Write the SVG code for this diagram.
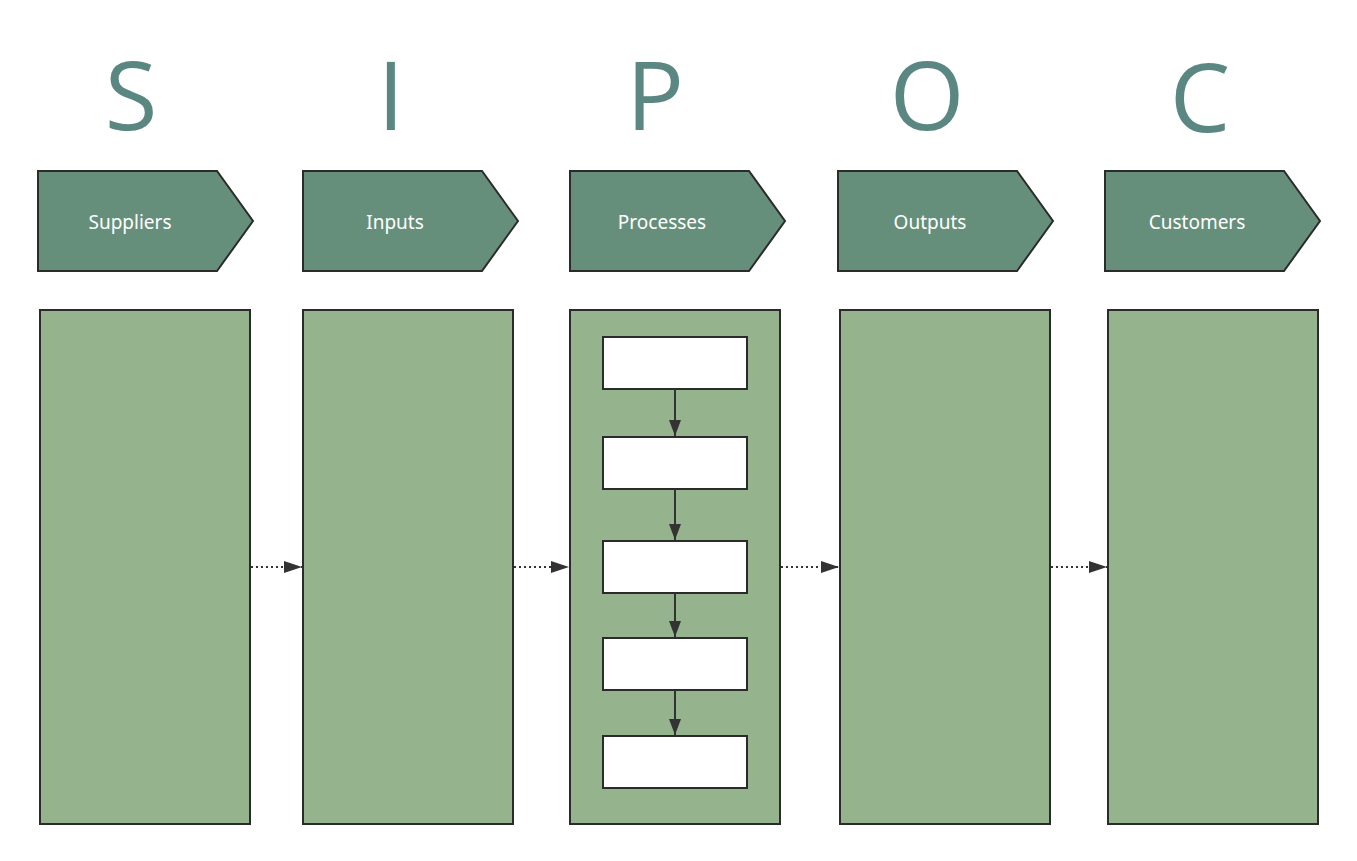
<svg xmlns="http://www.w3.org/2000/svg" width="1357" height="861" viewBox="0 0 1357 861">
<style>
.big{font-family:"Open Sans","Noto Sans",sans-serif;font-size:96px;fill:#5b8782;text-anchor:middle}
.hd{fill:#668f7b;stroke:#2b2b2b;stroke-width:2}
.hl{font-family:"Noto Sans","Open Sans",sans-serif;font-size:19px;fill:#fff;text-anchor:middle}
.col{fill:#95b48e;stroke:#2b2b2b;stroke-width:2}
.box{fill:#fff;stroke:#2b2b2b;stroke-width:2}
.c{stroke:#333;stroke-width:2;fill:none}
.d{stroke:#333;stroke-width:2;stroke-dasharray:2 3;fill:none}
</style>
<defs><marker id="a" markerWidth="16" markerHeight="12" refX="16" refY="6" orient="auto" markerUnits="userSpaceOnUse"><path d="M0,0L16,6L0,12z" fill="#333"/></marker>
<marker id="b" markerWidth="18" markerHeight="12" refX="18" refY="6" orient="auto" markerUnits="userSpaceOnUse"><path d="M0,0L18,6L0,12z" fill="#333"/></marker></defs>
<g id="letters"><text class="big" x="131" y="130">S</text><text class="big" x="391" y="130">I</text><text class="big" x="655" y="130">P</text><text class="big" x="927" y="130">O</text><text class="big" x="1200" y="132">C</text></g>
<g id="h1"><path class="hd" d="M38,171H217L253,221L217,271H38Z"/><text class="hl" x="130" y="229">Suppliers</text></g>
<g id="h2"><path class="hd" d="M303,171H482L518,221L482,271H303Z"/><text class="hl" x="395" y="229">Inputs</text></g>
<g id="h3"><path class="hd" d="M570,171H749L785,221L749,271H570Z"/><text class="hl" x="662" y="229">Processes</text></g>
<g id="h4"><path class="hd" d="M838,171H1017L1053,221L1017,271H838Z"/><text class="hl" x="930" y="229">Outputs</text></g>
<g id="h5"><path class="hd" d="M1105,171H1284L1320,221L1284,271H1105Z"/><text class="hl" x="1197" y="229">Customers</text></g>
<g id="c1"><rect class="col" x="40" y="310" width="210" height="514"/></g>
<g id="c2"><rect class="col" x="303" y="310" width="210" height="514"/></g>
<g id="c3"><rect class="col" x="570" y="310" width="210" height="514"/></g>
<g id="c4"><rect class="col" x="840" y="310" width="210" height="514"/></g>
<g id="c5"><rect class="col" x="1108" y="310" width="210" height="514"/></g>
<g id="p1"><rect class="box" x="603" y="337" width="144" height="52"/></g>
<g id="p2"><rect class="box" x="603" y="437" width="144" height="52"/></g>
<g id="p3"><rect class="box" x="603" y="541" width="144" height="52"/></g>
<g id="p4"><rect class="box" x="603" y="638" width="144" height="52"/></g>
<g id="p5"><rect class="box" x="603" y="736" width="144" height="52"/></g>
<g id="connectors">
<path class="c" d="M675,389V436" marker-end="url(#a)"/>
<path class="c" d="M675,489V540" marker-end="url(#a)"/>
<path class="c" d="M675,593V637" marker-end="url(#a)"/>
<path class="c" d="M675,690V735" marker-end="url(#a)"/>
<path class="d" d="M251,567H302" marker-end="url(#b)"/>
<path class="d" d="M514,567H569" marker-end="url(#b)"/>
<path class="d" d="M781,567H839" marker-end="url(#b)"/>
<path class="d" d="M1051,567H1107" marker-end="url(#b)"/>
</g>
</svg>
